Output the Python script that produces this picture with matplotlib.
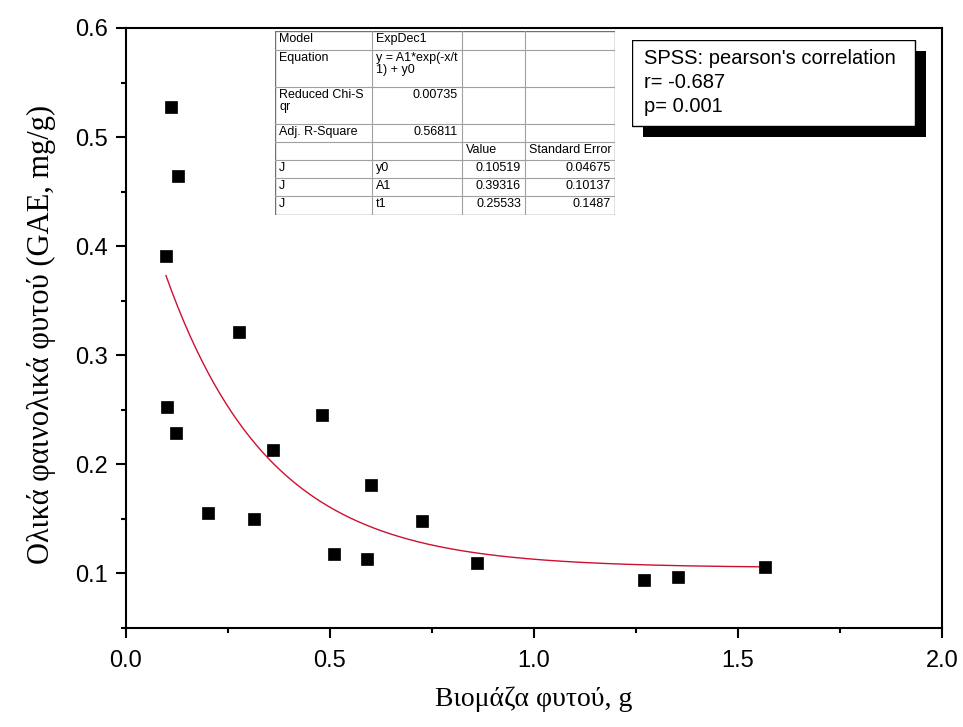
import numpy as np
import matplotlib
matplotlib.use("Agg")
import matplotlib.pyplot as plt
from matplotlib.patches import Rectangle
from matplotlib.ticker import MultipleLocator

# данные
biomass = [0.110, 0.127, 0.098, 0.277, 0.100, 0.123, 0.480, 0.360, 0.600,
           0.201, 0.314, 0.725, 0.510, 0.590, 0.860, 1.270, 1.353, 1.566]
phenolics = [0.528, 0.464, 0.391, 0.321, 0.253, 0.229, 0.245, 0.213, 0.181,
             0.155, 0.150, 0.1485, 0.118, 0.113, 0.110, 0.094, 0.097, 0.1055]

# параметры подгонки ExpDec1 из таблицы Origin
fit_y0 = 0.10519
fit_A1 = 0.39316
fit_t1 = 0.25533

table_rows = [
    ["Model", "ExpDec1", "", ""],
    ["Equation", "y = A1*exp(-x/t\n1) + y0", "", ""],
    ["Reduced Chi-S\nqr", "0.00735", "", ""],
    ["Adj. R-Square", "0.56811", "", ""],
    ["", "", "Value", "Standard Error"],
    ["J", "y0", "0.10519", "0.04675"],
    ["J", "A1", "0.39316", "0.10137"],
    ["J", "t1", "0.25533", "0.1487"],
]
spss_lines = ["SPSS: pearson's correlation", "r= -0.687", "p= 0.001"]

xlabel = "Βιομάζα φυτού, g"
ylabel = "Ολικά φαινολικά φυτού (GAE, mg/g)"

W, H = 963, 727
fig = plt.figure(figsize=(W / 100, H / 100), dpi=100)


def px_box(x0, y0, x1, y1):
    return [x0 / W, 1 - y1 / H, (x1 - x0) / W, (y1 - y0) / H]


ax = fig.add_axes(px_box(126, 28, 942, 628))

# кривая подгонки
xf = np.linspace(min(biomass), max(biomass), 300)
yf = fit_y0 + fit_A1 * np.exp(-xf / fit_t1)
ax.plot(xf, yf, color="#cc1030", lw=1.0, zorder=2)
ax.plot(biomass, phenolics, "s", color="black", ms=9, mew=0.5, zorder=3)

ax.set_xlim(0, 2.0)
ax.set_ylim(0.05, 0.6)
ax.xaxis.set_major_locator(MultipleLocator(0.5))
ax.xaxis.set_minor_locator(MultipleLocator(0.25))
ax.yaxis.set_major_locator(MultipleLocator(0.1))
ax.yaxis.set_minor_locator(MultipleLocator(0.05))
ax.set_yticks([0.1, 0.2, 0.3, 0.4, 0.5, 0.6])
for s in ax.spines.values():
    s.set_linewidth(1.5)
ax.tick_params(which="both", direction="out", width=1.5, top=False, right=False)
ax.tick_params(which="major", length=7, labelsize=17)
ax.tick_params(axis="x", which="major", pad=9)
ax.tick_params(axis="y", which="major", pad=6)
ax.tick_params(which="minor", length=3.5)
for lab in ax.get_xticklabels() + ax.get_yticklabels():
    lab.set_family("Liberation Sans")

ax.set_xlabel(xlabel, family="Liberation Serif", fontsize=20)
ax.set_ylabel(ylabel, family="Liberation Serif", fontsize=22)
ax.xaxis.set_label_coords(0.5, -0.098)
ax.yaxis.set_label_coords(-0.086, 0.49)

# таблица Origin
tab = fig.add_axes(px_box(275, 31, 615, 215))
tab.set_xlim(0, 340)
tab.set_ylim(184, 0)
tab.axis("off")
col_edges = [0, 97, 187, 250, 340]
row_edges = [0, 19, 56, 93, 111, 129, 147, 165, 184]
tab.add_patch(Rectangle((0, 0), 340, 184, facecolor="white", edgecolor="none", zorder=0))
for yy in row_edges[1:-1]:
    tab.plot([0, 340], [yy, yy], color="#a0a0a0", lw=0.8)
for xx in col_edges[1:-1]:
    tab.plot([xx, xx], [0, 184], color="#a0a0a0", lw=0.8)
tab.add_patch(Rectangle((0, 0), 340, 184, facecolor="none", edgecolor="#707070", lw=1.0))
right_cells = {(2, 1), (3, 1), (5, 2), (6, 2), (7, 2), (5, 3), (6, 3), (7, 3)}
for r, row in enumerate(table_rows):
    for c, txt in enumerate(row):
        if not txt:
            continue
        if (r, c) in right_cells:
            tab.text(col_edges[c + 1] - 4, row_edges[r] + 2, txt, ha="right", va="top",
                     fontsize=9, family="Liberation Sans", linespacing=1.0)
        else:
            tab.text(col_edges[c] + 4, row_edges[r] + 2, txt, ha="left", va="top",
                     fontsize=9, family="Liberation Sans", linespacing=1.0)

# блок SPSS с тенью
box = fig.add_axes(px_box(632, 40, 926, 137))
box.set_xlim(0, 294)
box.set_ylim(97, 0)
box.axis("off")
box.add_patch(Rectangle((11, 11), 283, 86, facecolor="black", edgecolor="none"))
box.add_patch(Rectangle((0, 0), 283, 86, facecolor="white", edgecolor="black", lw=1.0))
for i, line in enumerate(spss_lines):
    box.text(12, 18 + 24.5 * i, line, ha="left", va="center", fontsize=14.5,
             family="Liberation Sans")

fig.savefig("out.png", dpi=100)
